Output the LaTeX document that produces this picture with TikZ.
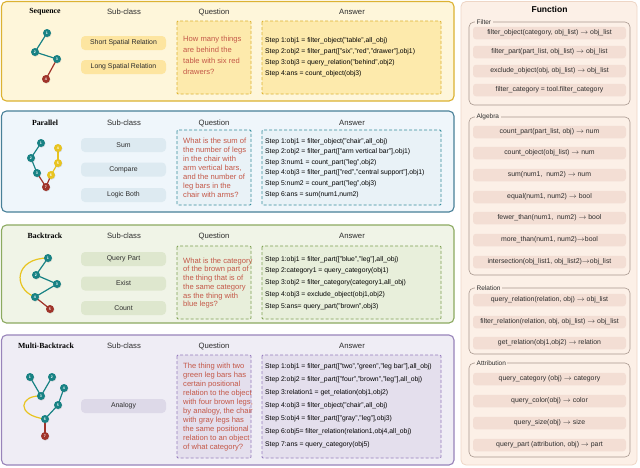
\documentclass[tikz,border=0pt]{standalone}
\usepackage{fontspec}
\setmainfont{Liberation Sans}
\newfontfamily\titlefont{Liberation Serif}
\usetikzlibrary{shadows}
\definecolor{gteal}{RGB}{24,130,132}
\definecolor{gred}{RGB}{160,52,42}
\definecolor{gyel}{RGB}{232,196,32}
\definecolor{qtxt}{RGB}{196,88,72}
\definecolor{hdr}{RGB}{45,45,45}
\definecolor{seqfill}{RGB}{254,246,218}
\definecolor{seqdraw}{RGB}{220,178,50}
\definecolor{seqbox}{RGB}{253,234,172}
\definecolor{seqpill}{RGB}{253,229,160}
\definecolor{parfill}{RGB}{239,246,251}
\definecolor{pardraw}{RGB}{72,128,152}
\definecolor{pardash}{RGB}{52,140,156}
\definecolor{parbox}{RGB}{233,242,247}
\definecolor{parpill}{RGB}{221,234,241}
\definecolor{bakfill}{RGB}{240,244,231}
\definecolor{bakdraw}{RGB}{140,170,96}
\definecolor{bakdash}{RGB}{126,160,82}
\definecolor{bakbox}{RGB}{232,239,219}
\definecolor{bakpill}{RGB}{222,231,206}
\definecolor{mulfill}{RGB}{239,237,245}
\definecolor{muldraw}{RGB}{152,132,186}
\definecolor{muldash}{RGB}{150,124,190}
\definecolor{mulbox}{RGB}{228,223,237}
\definecolor{mulpill}{RGB}{221,217,232}
\definecolor{fnfill}{RGB}{252,240,231}
\definecolor{fndraw}{RGB}{238,214,198}
\definecolor{fngrp}{RGB}{168,152,142}
\definecolor{fnpill}{RGB}{243,222,212}
\newcommand{\myto}{\ensuremath{\rightarrow}}
\tikzset{
 panel/.style={rounded corners=5pt, line width=1.1pt},
 qabox/.style={rounded corners=1pt, line width=0.9pt, dash pattern=on 3pt off 2pt},
 pill/.style={rounded corners=4pt, minimum width=85pt, minimum height=14pt, inner sep=0pt, font=\fontsize{6.9}{8}\selectfont, text=hdr},
 hdrtxt/.style={font=\fontsize{7.7}{9}\selectfont, text=hdr},
 ttl/.style={font=\titlefont\bfseries\fontsize{7.8}{9}\selectfont},
 qtext/.style={anchor=north west, inner sep=0pt, align=left, text=qtxt},
 atext/.style={anchor=north west, inner sep=0pt, align=left, text=black},
 gn/.style={circle, minimum size=8pt, inner sep=0pt, text=white, font=\fontsize{3.6}{4}\selectfont\bfseries, drop shadow={opacity=0.3, shadow xshift=0.4pt, shadow yshift=-0.6pt}},
 tn/.style={gn, fill=gteal},
 rn/.style={gn, fill=gred},
 yn/.style={gn, fill=gyel},
 te/.style={draw=gteal, line width=1.2pt},
 re/.style={draw=gred, line width=1.2pt},
 ye/.style={draw=gyel, line width=1.2pt},
 grp/.style={draw=fngrp, rounded corners=5pt, line width=0.6pt},
 glab/.style={anchor=west, fill=fnfill, inner sep=1.5pt, font=\fontsize{6.5}{7}\selectfont, text=hdr},
 fp/.style={rounded corners=3pt, fill=fnpill, minimum width=153pt, minimum height=12.5pt, inner sep=0pt, font=\fontsize{6.9}{8}\selectfont, text=hdr},
}
\begin{document}
\begin{tikzpicture}[x=1pt,y=-1pt]
\useasboundingbox (0,0) rectangle (640,467);
\fill[white] (0,0) rectangle (640,467);

% ---------------- Sequence ----------------
\draw[panel, draw=seqdraw, fill=seqfill] (1.5,1.5) rectangle (454,101);
\node[ttl] (t1) at (45,12) {Sequence};
\node[hdrtxt] (h1) at (124,12) {Sub-class};
\node[hdrtxt] (qh1) at (214,12) {Question};
\node[hdrtxt] (ah1) at (352,12) {Answer};
\draw[qabox, draw=seqdraw, fill=seqbox] (177,21) rectangle (251,94);
\draw[qabox, draw=seqdraw, fill=seqbox] (262,21) rectangle (441,94);
\node[pill, fill=seqpill] (sp1) at (123.5,43) {Short Spatial Relation};
\node[pill, fill=seqpill] (sp2) at (123.5,67) {Long Spatial Relation};
\node[qtext, font=\fontsize{7.6}{11}\selectfont] (q1) at (183,35.5) {How many things\\are behind the\\table with six red\\drawers?};
\node[atext, font=\fontsize{6.8}{11}\selectfont] (a1) at (265,37) {Step 1:obj1 = filter\_object("table",all\_obj)\\Step 2:obj2 = filter\_part(["six","red","drawer"],obj1)\\Step 3:obj3 = query\_relation("behind",obj2)\\Step 4:ans = count\_object(obj3)};
\coordinate (s1) at (47,33);
\coordinate (s2) at (35,52);
\coordinate (s3) at (57,59);
\coordinate (s4) at (46,79);
\draw[te] (s1) -- (s2);
\draw[te] (s2) -- (s3);
\draw[re] (s3) -- (s4);
\node[tn] (sn1) at (s1) {1};
\node[tn] (sn2) at (s2) {2};
\node[tn] (sn3) at (s3) {3};
\node[rn] (sn4) at (s4) {4};

% ---------------- Parallel ----------------
\draw[panel, draw=pardraw, fill=parfill] (1.5,111) rectangle (454,212);
\node[ttl] (t2) at (45,123) {Parallel};
\node[hdrtxt] (h2) at (124,123) {Sub-class};
\node[hdrtxt] (qh2) at (214,123) {Question};
\node[hdrtxt] (ah2) at (352,123) {Answer};
\draw[qabox, draw=pardash, fill=parbox] (177,130) rectangle (251,205);
\draw[qabox, draw=pardash, fill=parbox] (262,130) rectangle (441,205);
\node[pill, fill=parpill] (pp1) at (123.5,145) {Sum};
\node[pill, fill=parpill] (pp2) at (123.5,169.5) {Compare};
\node[pill, fill=parpill] (pp3) at (123.5,195) {Logic Both};
\node[qtext, font=\fontsize{7.6}{9}\selectfont] (q2) at (183,137.5) {What is the sum of\\the number of legs\\in the chair with\\arm vertical bars,\\and the number of\\leg bars in the\\chair with arms?};
\node[atext, font=\fontsize{6.8}{10.6}\selectfont] (a2) at (265,138) {Step 1:obj1 = filter\_object("chair",all\_obj)\\Step 2:obj2 = filter\_part(["arm vertical bar"],obj1)\\Step 3:num1 = count\_part("leg",obj2)\\Step 4:obj3 = filter\_part(["red","central support"],obj1)\\Step 5:num2 = count\_part("leg",obj3)\\Step 6:ans = sum(num1,num2)};
\coordinate (p1) at (41,143);
\coordinate (p2) at (31,158);
\coordinate (p3) at (37,173);
\coordinate (p4) at (58,148);
\coordinate (p5) at (58,163);
\coordinate (p6) at (51,175);
\coordinate (p7) at (46,187);
\draw[te] (p1) -- (p2);
\draw[te] (p2) -- (p3);
\draw[re] (p3) -- (p7);
\draw[ye] (p4) -- (p5);
\draw[ye] (p5) -- (p6);
\draw[re] (p6) -- (p7);
\node[tn] (pn1) at (p1) {1};
\node[tn] (pn2) at (p2) {2};
\node[tn] (pn3) at (p3) {3};
\node[yn] (pn4) at (p4) {4};
\node[yn] (pn5) at (p5) {5};
\node[yn] (pn6) at (p6) {6};
\node[rn] (pn7) at (p7) {7};

% ---------------- Backtrack ----------------
\draw[panel, draw=bakdraw, fill=bakfill] (1.5,225) rectangle (454,323);
\node[ttl] (t3) at (45,236) {Backtrack};
\node[hdrtxt] (h3) at (124,236) {Sub-class};
\node[hdrtxt] (qh3) at (214,236) {Question};
\node[hdrtxt] (ah3) at (352,236) {Answer};
\draw[qabox, draw=bakdash, fill=bakbox] (177,246) rectangle (251,319);
\draw[qabox, draw=bakdash, fill=bakbox] (262,246) rectangle (441,319);
\node[pill, fill=bakpill] (bp1) at (123.5,259) {Query Part};
\node[pill, fill=bakpill] (bp2) at (123.5,283.5) {Exist};
\node[pill, fill=bakpill] (bp3) at (123.5,308) {Count};
\node[qtext, font=\fontsize{7.6}{8.7}\selectfont] (q3) at (183,257.5) {What is the category\\of the brown part of\\the thing that is of\\the same category\\as the thing with\\blue legs?};
\node[atext, font=\fontsize{6.8}{11.75}\selectfont] (a3) at (265,256) {Step 1:obj1 = filter\_part(["blue","leg"],all\_obj)\\Step 2:category1 = query\_category(obj1)\\Step 3:obj2 = filter\_category(category1,all\_obj)\\Step 4:obj3 = exclude\_object(obj1,obj2)\\Step 5:ans= query\_part("brown",obj3)};
\coordinate (b1) at (48,258);
\coordinate (b2) at (36,275);
\coordinate (b3) at (57,284);
\coordinate (b4) at (35,297);
\coordinate (b5) at (50,309);
\draw[ye] (b4) .. controls (12,288) and (15,258) .. (b1);
\draw[te] (b1) -- (b2);
\draw[te] (b2) -- (b3);
\draw[te] (b3) -- (b4);
\draw[re] (b4) -- (b5);
\node[tn] (bn1) at (b1) {1};
\node[tn] (bn2) at (b2) {2};
\node[tn] (bn3) at (b3) {3};
\node[tn] (bn4) at (b4) {4};
\node[rn] (bn5) at (b5) {5};

% ---------------- Multi-Backtrack ----------------
\draw[panel, draw=muldraw, fill=mulfill] (1.5,335) rectangle (454,465);
\node[ttl] (t4) at (46,346) {Multi-Backtrack};
\node[hdrtxt] (h4) at (124,346) {Sub-class};
\node[hdrtxt] (qh4) at (214,346) {Question};
\node[hdrtxt] (ah4) at (352,346) {Answer};
\draw[qabox, draw=muldash, fill=mulbox] (177,355) rectangle (251,458);
\draw[qabox, draw=muldash, fill=mulbox] (262,355) rectangle (441,458);
\node[pill, fill=mulpill] (mp1) at (123.5,406) {Analogy};
\node[qtext, font=\fontsize{7.6}{9}\selectfont] (q4) at (183,362.5) {The thing with two\\green leg bars has\\certain positional\\relation to the object\\with four brown legs,\\by analogy, the chair\\with gray legs has\\the same positional\\relation to an object\\of what category?};
\node[atext, font=\fontsize{6.8}{13}\selectfont] (a4) at (265,363) {Step 1:obj1 = filter\_part(["two","green","leg bar"],all\_obj)\\Step 2:obj2 = filter\_part(["four","brown","leg"],all\_obj)\\Step 3:relation1 = get\_relation(obj1,obj2)\\Step 4:obj3 = filter\_object("chair",all\_obj)\\Step 5:obj4 = filter\_part(["gray","leg"],obj3)\\Step 6:obj5= filter\_relation(relation1,obj4,all\_obj)\\Step 7:ans = query\_category(obj5)};
\coordinate (m1) at (30,377);
\coordinate (m2) at (52,377);
\coordinate (m3) at (41,396);
\coordinate (m4) at (64,388);
\coordinate (m5) at (58,405);
\coordinate (m6) at (45,419);
\coordinate (m7) at (45,436);
\draw[ye] (m6) .. controls (15,415) and (20,395) .. (m3);
\draw[te] (m1) -- (m3);
\draw[te] (m2) -- (m3);
\draw[te] (m4) -- (m5);
\draw[te] (m5) -- (m6);
\draw[re] (m6) -- (m7);
\node[tn] (mn1) at (m1) {1};
\node[tn] (mn2) at (m2) {2};
\node[tn] (mn3) at (m3) {3};
\node[tn] (mn4) at (m4) {4};
\node[tn] (mn5) at (m5) {5};
\node[tn] (mn6) at (m6) {6};
\node[rn] (mn7) at (m7) {7};

% ---------------- Function ----------------
\draw[panel, line width=0.8pt, draw=fndraw, fill=fnfill] (461,1.5) rectangle (637,465);
\node[font=\bfseries\fontsize{8.5}{10}\selectfont] (fh) at (549.5,9.5) {Function};

\draw[grp] (469,22) rectangle (630,105);
\node[glab] (g1) at (475,22) {Filter};
\node[fp] (f1) at (549.5,33) {filter\_object(category, obj\_list) \myto{} obj\_list};
\node[fp] (f2) at (549.5,52) {filter\_part(part\_list, obj\_list) \myto{} obj\_list};
\node[fp] (f3) at (549.5,71) {exclude\_object(obj, obj\_list) \myto{} obj\_list};
\node[fp] (f4) at (549.5,90) {filter\_category = tool.filter\_category};

\draw[grp] (469,117) rectangle (630,275);
\node[glab] (g2) at (475,117) {Algebra};
\node[fp] (f5) at (549.5,132) {count\_part(part\_list, obj) \myto{} num};
\node[fp] (f6) at (549.5,153) {count\_object(obj\_list) \myto{} num};
\node[fp] (f7) at (549.5,175) {sum(num1,\ \ num2) \myto{} num};
\node[fp] (f8) at (549.5,197) {equal(num1, num2) \myto{} bool};
\node[fp] (f9) at (549.5,218) {fewer\_than(num1,\ \ num2) \myto{} bool};
\node[fp] (f10) at (549.5,240) {more\_than(num1, num2)\myto{}bool};
\node[fp] (f11) at (549.5,262) {intersection(obj\_list1, obj\_list2)\myto{}obj\_list};

\draw[grp] (469,288) rectangle (630,354);
\node[glab] (g3) at (475,288) {Relation};
\node[fp] (f12) at (549.5,300) {query\_relation(relation, obj) \myto{} obj\_list};
\node[fp] (f13) at (549.5,322) {filter\_relation(relation, obj, obj\_list) \myto{} obj\_list};
\node[fp] (f14) at (549.5,343) {get\_relation(obj1,obj2) \myto{} relation};

\draw[grp] (469,363) rectangle (630,457);
\node[glab] (g4) at (475,363) {Attribution};
\node[fp] (f15) at (549.5,379) {query\_category (obj) \myto{} category};
\node[fp] (f16) at (549.5,401) {query\_color(obj) \myto{} color};
\node[fp] (f17) at (549.5,423) {query\_size(obj) \myto{} size};
\node[fp] (f18) at (549.5,445) {query\_part (attribution, obj) \myto{} part};
\end{tikzpicture}
\end{document}
